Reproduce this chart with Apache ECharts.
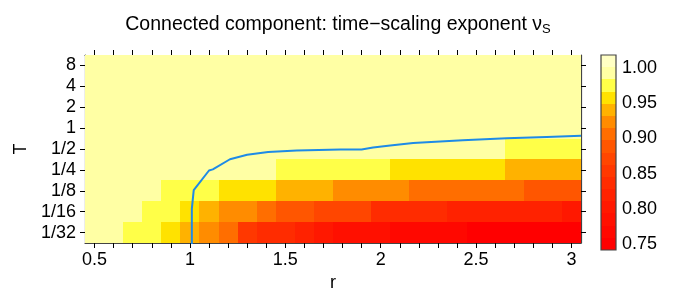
<!DOCTYPE html>
<html>
<head>
<meta charset="utf-8">
<script src="https://cdn.jsdelivr.net/npm/echarts/dist/echarts.min.js"></script>
<style>
html, body { margin: 0; padding: 0; background: #fff; }
#main { width: 676px; height: 297px; }
</style>
</head>
<body>
<div id="main"></div>
<script>
// r 方向的格子 (0.5 .. 3)
let rCats = ['0.5', '0.6', '0.7', '0.8', '0.9', '1', '1.1', '1.2', '1.3', '1.4', '1.5', '1.6', '1.7',
  '1.8', '1.9', '2', '2.1', '2.2', '2.3', '2.4', '2.5', '2.6', '2.7', '2.8', '2.9', '3']
// T 方向, 从下到上
let tCats = ['1/32', '1/16', '1/8', '1/4', '1/2', '1', '2', '4', '8']

// nu_S, 每行一个 T
let nu_1_32 = [0.99, 0.99, 0.975, 0.975, 0.958, 0.94, 0.923, 0.906, 0.854, 0.837, 0.837, 0.819, 0.802,
  0.785, 0.785, 0.785, 0.767, 0.767, 0.767, 0.767, 0.75, 0.75, 0.75, 0.75, 0.75, 0.75]
let nu_1_16 = [0.99, 0.99, 0.99, 0.975, 0.975, 0.958, 0.94, 0.923, 0.923, 0.906, 0.889, 0.889, 0.871,
  0.871, 0.871, 0.837, 0.837, 0.837, 0.837, 0.819, 0.819, 0.819, 0.819, 0.819, 0.819, 0.802]
let nu_1_8 = [0.99, 0.99, 0.99, 0.99, 0.975, 0.975, 0.975, 0.958, 0.958, 0.958, 0.94, 0.94, 0.94,
  0.923, 0.923, 0.923, 0.923, 0.906, 0.906, 0.906, 0.906, 0.906, 0.906, 0.889, 0.889, 0.889]
let nu_1_4 = [0.995, 0.995, 0.995, 0.995, 0.995, 0.995, 0.99, 0.99, 0.99, 0.99, 0.975, 0.975, 0.975,
  0.975, 0.975, 0.975, 0.958, 0.958, 0.958, 0.958, 0.958, 0.958, 0.94, 0.94, 0.94, 0.94]
let nu_1_2 = [1.0, 1.0, 1.0, 1.0, 1.0, 0.995, 0.995, 0.995, 0.995, 0.995, 0.995, 0.995, 0.995,
  0.995, 0.995, 0.995, 0.99, 0.99, 0.99, 0.99, 0.99, 0.99, 0.975, 0.975, 0.975, 0.975]
let nu_1 = [1.0, 1.0, 1.0, 1.0, 1.0, 1.0, 1.0, 1.0, 1.0, 1.0, 1.0, 1.0, 1.0,
  1.0, 1.0, 1.0, 1.0, 1.0, 1.0, 1.0, 1.0, 1.0, 0.995, 0.995, 0.995, 0.995]
let nu_2 = [1.0, 1.0, 1.0, 1.0, 1.0, 1.0, 1.0, 1.0, 1.0, 1.0, 1.0, 1.0, 1.0,
  1.0, 1.0, 1.0, 1.0, 1.0, 1.0, 1.0, 1.0, 1.0, 1.0, 1.0, 1.0, 1.0]
let nu_4 = [1.0, 1.0, 1.0, 1.0, 1.0, 1.0, 1.0, 1.0, 1.0, 1.0, 1.0, 1.0, 1.0,
  1.0, 1.0, 1.0, 1.0, 1.0, 1.0, 1.0, 1.0, 1.0, 1.0, 1.0, 1.0, 1.0]
let nu_8 = [1.0, 1.0, 1.0, 1.0, 1.0, 1.0, 1.0, 1.0, 1.0, 1.0, 1.0, 1.0, 1.0,
  1.0, 1.0, 1.0, 1.0, 1.0, 1.0, 1.0, 1.0, 1.0, 1.0, 1.0, 1.0, 1.0]
let nuRows = [nu_1_32, nu_1_16, nu_1_8, nu_1_4, nu_1_2, nu_1, nu_2, nu_4, nu_8]

// 蓝线
let curveR = [1.01, 1.01, 1.02, 1.10, 1.12, 1.21, 1.30, 1.41, 1.56, 1.79, 1.90, 1.96, 2.05, 2.17, 2.43, 2.66, 2.87, 3.05]
let curveT = [0.0156, 0.0686, 0.128, 0.245, 0.254, 0.356, 0.412, 0.454, 0.476, 0.493, 0.493, 0.525, 0.563, 0.612, 0.669, 0.717, 0.747, 0.774]

// 色标分段和刻度
let bandEdges = [0.7415, 0.7588, 0.7761, 0.7934, 0.8107, 0.828, 0.8453, 0.8626, 0.8799,
  0.8972, 0.9145, 0.9318, 0.9491, 0.9664, 0.9837, 1.001, 1.0183]
let barTicks = [0.75, 0.80, 0.85, 0.90, 0.95, 1.00]

let bandColors = ['#FF0000', '#FF0800', '#FF1000', '#FF1800', '#FF2200', '#FF2C00', '#FF3800', '#FF4600',
  '#FF5600', '#FF6E00', '#FF8C00', '#FFB200', '#FFE200', '#FFFF48', '#FFFFA4', '#FFFFC4']

let font = 'Liberation Sans'
let frameCol = '#444'

let heatData = []
nuRows.forEach((row, j) => {
  row.forEach((v, i) => heatData.push([i, j, v]))
})
let curve = curveR.map((r, i) => [r, curveT[i]])
let bands = bandColors.map((c, k) => [bandEdges[k], bandEdges[k + 1], k])
let pieces = bandColors.map((c, k) => ({ gte: bandEdges[k], lt: bandEdges[k + 1], color: c }))

let tickStyle = { show: true, alignWithLabel: true, interval: 0, length: 5, lineStyle: { color: '#000', width: 1 } }
let lineStyle = { show: true, lineStyle: { color: frameCol, width: 1.2 } }

let myChart = echarts.init(document.getElementById('main'))
let option = {
  animation: false,
  textStyle: { fontFamily: font },
  title: {
    text: '{a|Connected component: time\u2212scaling exponent \u03bd}{b|S}',
    left: 'center',
    top: 9,
    textStyle: {
      fontWeight: 'normal',
      rich: {
        a: { fontSize: 19.5, lineHeight: 22, color: '#000', fontFamily: font, fontWeight: 'normal' },
        b: { fontSize: 13, lineHeight: 13, verticalAlign: 'bottom', color: '#000', fontFamily: font, fontWeight: 'normal' }
      }
    }
  },
  grid: [
    { left: 85, top: 55, width: 496, height: 194 },
    { left: 601, top: 55, width: 15, height: 195 }
  ],
  visualMap: {
    type: 'piecewise',
    show: false,
    seriesIndex: 0,
    dimension: 2,
    pieces: pieces
  },
  xAxis: [
    {
      type: 'category', gridIndex: 0, data: rCats, position: 'bottom',
      axisLine: lineStyle, axisTick: tickStyle, splitLine: { show: false },
      axisLabel: { interval: 4, fontSize: 18, color: '#000', margin: 8 },
      name: 'r', nameLocation: 'middle', nameGap: 31,
      nameTextStyle: { fontSize: 18, color: '#000' }
    },
    {
      type: 'category', gridIndex: 0, data: rCats, position: 'top',
      axisLine: lineStyle, axisTick: tickStyle, axisLabel: { show: false }
    },
    { type: 'value', gridIndex: 0, min: 0.45, max: 3.05, show: false },
    { type: 'value', gridIndex: 1, min: 0, max: 1, show: false }
  ],
  yAxis: [
    {
      type: 'category', gridIndex: 0, data: tCats, position: 'left',
      axisLine: lineStyle, axisTick: tickStyle, splitLine: { show: false },
      axisLabel: { interval: 0, fontSize: 18, color: '#000', margin: 9 },
      name: 'T', nameLocation: 'middle', nameGap: 55, nameRotate: 90,
      nameTextStyle: { fontSize: 18, color: '#000' }
    },
    {
      type: 'category', gridIndex: 0, data: tCats, position: 'right',
      axisLine: lineStyle, axisTick: tickStyle, axisLabel: { show: false }
    },
    { type: 'log', logBase: 2, gridIndex: 0, min: Math.pow(2, -5.5), max: Math.pow(2, 3.5), show: false },
    {
      type: 'value', gridIndex: 1, position: 'right',
      min: bandEdges[0], max: bandEdges[bandEdges.length - 1],
      splitLine: { show: false },
      axisLine: { show: false },
      axisTick: { show: true, length: 3, customValues: barTicks, lineStyle: { color: '#000' } },
      axisLabel: {
        fontSize: 18, color: '#000', margin: 6, customValues: barTicks,
        formatter: v => v.toFixed(2)
      }
    }
  ],
  series: [
    {
      // 热力格子, 边缘取整避免缝
      type: 'custom',
      xAxisIndex: 0,
      yAxisIndex: 0,
      data: heatData,
      renderItem: function (params, api) {
        let c = api.coord([api.value(0), api.value(1)])
        let s = api.size([1, 1])
        let x0 = Math.round(c[0] - s[0] / 2)
        let x1 = Math.round(c[0] + s[0] / 2)
        let y0 = Math.round(c[1] - s[1] / 2)
        let y1 = Math.round(c[1] + s[1] / 2)
        return {
          type: 'rect',
          shape: { x: x0, y: y0, width: x1 - x0, height: y1 - y0 },
          style: { fill: api.visual('color'), stroke: null }
        }
      }
    },
    {
      type: 'line',
      xAxisIndex: 2,
      yAxisIndex: 2,
      data: curve,
      symbol: 'none',
      clip: true,
      z: 5,
      lineStyle: { color: '#1E8BE6', width: 2 }
    },
    {
      // 色标
      type: 'custom',
      xAxisIndex: 3,
      yAxisIndex: 3,
      data: bands,
      renderItem: function (params, api) {
        let p1 = api.coord([0, api.value(1)])
        let p2 = api.coord([1, api.value(0)])
        let y1 = Math.round(p1[1])
        let y2 = Math.round(p2[1])
        return {
          type: 'rect',
          shape: { x: p1[0], y: y1, width: p2[0] - p1[0], height: y2 - y1 },
          style: { fill: bandColors[api.value(2)], stroke: null }
        }
      }
    },
    {
      // 色标边框
      type: 'custom',
      xAxisIndex: 3,
      yAxisIndex: 3,
      data: [[bandEdges[0], bandEdges[bandEdges.length - 1]]],
      z: 4,
      renderItem: function (params, api) {
        let p1 = api.coord([0, api.value(1)])
        let p2 = api.coord([1, api.value(0)])
        return {
          type: 'rect',
          shape: { x: p1[0], y: p1[1], width: p2[0] - p1[0], height: p2[1] - p1[1] },
          style: { fill: null, stroke: frameCol, lineWidth: 1.2 }
        }
      }
    }
  ]
}
myChart.setOption(option)
</script>
</body>
</html>
